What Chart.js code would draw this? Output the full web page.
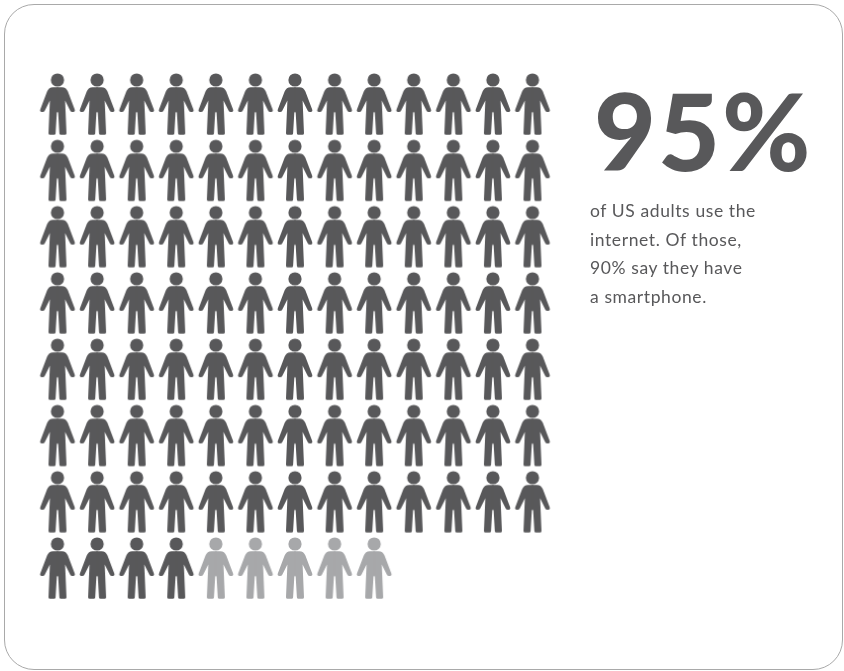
<!DOCTYPE html>
<html>
<head>
<meta charset="utf-8">
<script src="https://cdn.jsdelivr.net/npm/chart.js@4"></script>
<style>
  body { margin: 0; background: #fff; }
  #card { position: relative; width: 844px; height: 671px; overflow: hidden; }
  #frame { position: absolute; left: 4px; top: 4px; width: 839px; height: 666px; box-sizing: border-box;
           border: 1px solid #a9a9a9; border-radius: 30px; }
  canvas { position: absolute; left: 0; top: 0; }
  #big { position: absolute; left: 594px; top: 67px; font: 900 107px/126px Lato, sans-serif; letter-spacing: 2px; color: #58585a; white-space: nowrap; }
  #note { position: absolute; left: 590px; top: 197px; font: 400 17.5px/28.7px Lato, sans-serif; letter-spacing: 0.6px; color: #58585a; white-space: nowrap; }
</style>
</head>
<body>
<div id="card">
  <div id="frame"></div>
  <canvas id="chart" width="844" height="671"></canvas>
  <div id="big">95%</div>
  <div id="note">of US adults use the<br>internet. Of those,<br>90% say they have<br>a smartphone.</div>
</div>
<script>
const rowCounts = [13, 13, 13, 13, 13, 13, 13, 9];
const onlineCount = 95;
const darkColor = '#58585a';
const lightColor = '#a7a8aa';

// Walk the rows and hand out one grid position per person
const people = [];
rowCounts.forEach((count, row) => {
  for (let col = 0; col < count; col++) people.push({ x: col, y: row });
});

// Person icon, drawn once per colour and used as a point style
function personIcon(color) {
  const c = document.createElement('canvas');
  c.width = 40;
  c.height = 68;
  const g = c.getContext('2d');
  g.translate(20, 34);
  g.fillStyle = color;
  g.beginPath();
  g.arc(0, -24, 6.6, 0, Math.PI * 2);
  g.fill();

  // Outline of one half, from the collar down to the crotch
  const halfBody = s => {
    g.lineTo(s * 4.5, -16.8);
    g.quadraticCurveTo(s * 8.6, -16.8, s * 10.4, -12.5);
    g.lineTo(s * 17.2, 5.4);
    g.quadraticCurveTo(s * 18, 7.8, s * 15.6, 7.9);
    g.quadraticCurveTo(s * 13.4, 8.2, s * 12.6, 6.4);
    g.lineTo(s * 7.6, -3.5);
    g.lineTo(s * 9, 29.2);
    g.quadraticCurveTo(s * 9, 30.8, s * 7.4, 30.8);
    g.lineTo(s * 3.4, 30.8);
    g.quadraticCurveTo(s * 2, 30.8, s * 1.9, 29.2);
    g.lineTo(s * 0.7, 9);
    g.lineTo(0, 7.4);
  };
  g.beginPath();
  g.moveTo(0, -16.8);
  halfBody(1);
  g.closePath();
  g.moveTo(0, -16.8);
  halfBody(-1);
  g.closePath();
  g.fill('nonzero');
  // Close the hairline seam down the middle
  g.fillRect(-0.6, -16.8, 1.2, 24.2);
  return c;
}

new Chart(document.getElementById('chart'), {
  type: 'scatter',
  data: {
    datasets: [
      { data: people.slice(0, onlineCount), pointStyle: personIcon(darkColor), clip: false },
      { data: people.slice(onlineCount), pointStyle: personIcon(lightColor), clip: false }
    ]
  },
  options: {
    responsive: false,
    animation: false,
    layout: { padding: { left: 57.5, right: 311.5, top: 104, bottom: 103 } },
    plugins: { legend: { display: false }, tooltip: { enabled: false } },
    scales: {
      x: { type: 'linear', min: 0, max: 12, display: false },
      y: { type: 'linear', min: 0, max: 7, reverse: true, display: false }
    }
  }
});
</script>
</body>
</html>
